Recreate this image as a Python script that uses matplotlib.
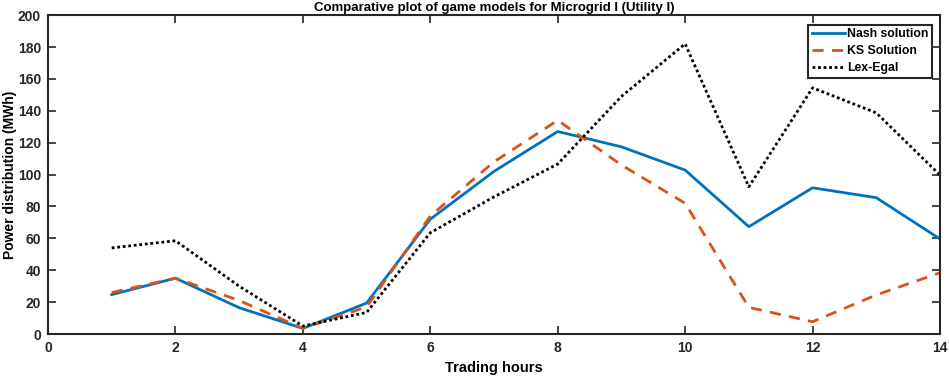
import matplotlib.pyplot as plt

plt.rcParams['font.family'] = ['Liberation Sans', 'DejaVu Sans']
plt.rcParams['font.weight'] = 'bold'

hours = [1, 2, 3, 4, 5, 6, 7, 8, 9, 10, 11, 12, 13, 14]
nash = [24.7, 35, 16.5, 3.5, 19.4, 72, 102, 127, 117.4, 102.8, 67.3, 91.7, 85.5, 59.6]
ks = [26, 35, 21, 3.5, 17, 74, 108, 134, 106, 82, 16.7, 7.7, 24.5, 38.4]
lex = [54, 58.5, 30, 5, 13.5, 63.5, 86, 106.6, 149, 182, 92.3, 154.4, 138.7, 99.7]

fig = plt.figure(figsize=(9.49, 3.78), dpi=100)
ax = fig.add_axes([0.0506, 0.1164, 0.9399, 0.8436])

ax.plot(hours, nash, '-', color='#0072BD', lw=2, label='Nash solution')
ax.plot(hours, ks, '--', color='#D95319', lw=2, dashes=(4, 3), label='KS Solution')
ax.plot(hours, lex, ':', color='black', lw=2, dashes=(1, 1), label='Lex-Egal')

ax.set_xlim(0, 14)
ax.set_ylim(0, 200)
ax.set_xticks(range(0, 15, 2))
ax.set_yticks(range(0, 201, 20))
ax.tick_params(direction='in', length=6, width=1.2, labelsize=10, colors='#262626',
               top=True, right=True, pad=5)
for s in ax.spines.values():
    s.set_linewidth(1.5)
    s.set_color('#262626')

ax.set_title('Comparative plot of game models for Microgrid I (Utility I)',
             fontsize=9.5, fontweight='bold', pad=3)
ax.set_xlabel('Trading hours', fontsize=10.5, fontweight='bold', labelpad=4)
ax.set_ylabel('Power distribution (MWh)', fontsize=10, fontweight='bold')
ax.yaxis.set_label_coords(-0.035, 0.5)

leg = ax.legend(loc='upper right', bbox_to_anchor=(0.9915, 0.97), fontsize=8.8,
                fancybox=False, framealpha=1, edgecolor='#262626',
                handlelength=2.7, borderpad=0.3, labelspacing=0.4, handletextpad=0.2,
                borderaxespad=0)
leg.get_frame().set_linewidth(1.5)

plt.savefig('out.png', dpi=100)
